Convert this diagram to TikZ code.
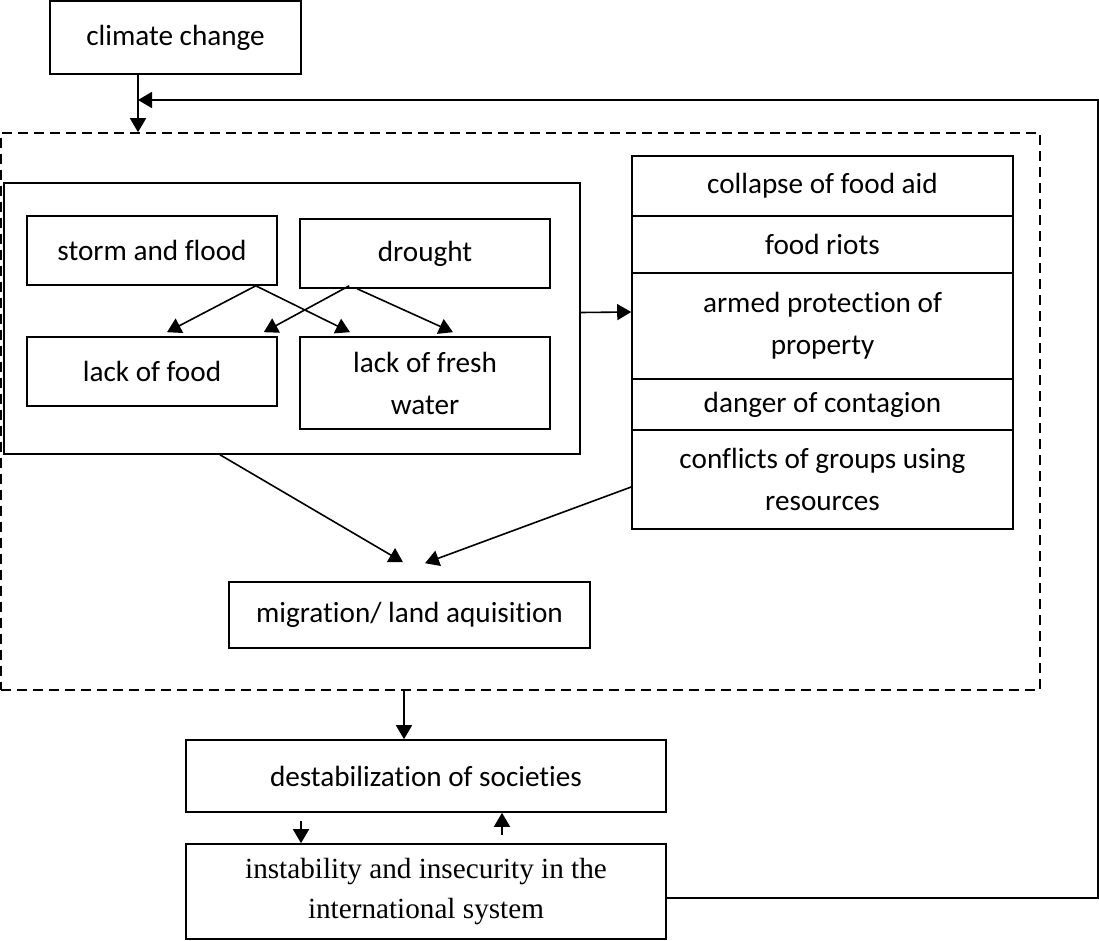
\documentclass[tikz,border=0pt]{standalone}
\usepackage{fontspec}
\setmainfont{Carlito}[Ligatures=NoCommon]
\newfontfamily\timesfont{Liberation Serif}[Ligatures=NoCommon]
\usepackage{tikz}
\usetikzlibrary{arrows.meta,calc}
\tikzset{>/.tip={Triangle[length=7pt,width=8pt]},
  box/.style={draw, inner sep=0pt, align=center, font=\fontsize{14.6}{21}\selectfont},
  tbox/.style={box, font=\timesfont\fontsize{14.6}{20}\selectfont}}

\begin{document}
\begin{tikzpicture}[x=0.5pt, y=-0.5pt, line width=0.8pt]
 \useasboundingbox (0,0) rectangle (1099,941);

 \node[box, minimum width=125.5pt, minimum height=36.5pt] (cc) at (175.5, 37.5) {climate change};
 \node[draw, dashed, dash pattern=on 5pt off 3pt, inner sep=0pt,
       minimum width=519.5pt, minimum height=278.5pt] (frame) at (520.5, 411.5) {};

 % left block
 \node[box, minimum width=288pt, minimum height=135.5pt] (group) at (292, 318.5) {};
 \node[box, minimum width=125pt, minimum height=34.5pt] (storm)   at (152, 250.5) {storm and flood};
 \node[box, minimum width=125pt, minimum height=34.5pt] (drought) at (425, 253.5) {drought};
 \node[box, minimum width=125pt, minimum height=34.5pt] (food)    at (152, 371.5) {lack of food};
 \node[box, minimum width=125pt, minimum height=46pt]   (water)   at (425, 383)   {lack of fresh\\water};

 % right column
 \node[box, minimum width=190.5pt, minimum height=30pt]   (aid)       at (822.5, 186)   {collapse of food aid};
 \node[box, minimum width=190.5pt, minimum height=28.5pt] (riots)     at (822.5, 244.5) {food riots};
 \node[box, minimum width=190.5pt, minimum height=53pt]   (armed)     at (822.5, 326)   {armed protection of\\property};
 \node[box, minimum width=190.5pt, minimum height=25.5pt] (contagion) at (822.5, 404.5) {danger of contagion};
 \node[box, minimum width=190.5pt, minimum height=49.5pt] (conflicts) at (822.5, 479.5) {conflicts of groups using\\resources};

 \node[box, minimum width=180.5pt, minimum height=33pt] (migration) at (409.5, 615) {migration/ land aquisition};
 \node[box, minimum width=240pt, minimum height=36pt]   (destab)    at (426, 776)    {destabilization of societies};
 \node[tbox, minimum width=240pt, minimum height=47.5pt] (instab)   at (426, 891.5)  {instability and insecurity in the\\international system};

 \coordinate (join)   at (138, 100);
 \coordinate (corner) at (1098, 100);
 \coordinate (dn)     at ($(destab.north)+(-22,0)$);

 \path[->] (cc.south -| join) edge (frame.north -| join);
 \draw[->] ($(instab.east)+(0,6.5)$) -| (corner) -- (join);

 \path[->] ($(storm.south east)+(-22,0)$) edge ($(food.north)+(15,-4)$);
 \path[->] ($(storm.south east)+(-22,0)$) edge ($(water.north)+(-75,-4)$);
 \path[->] ($(drought.south west)+(50,-3)$) edge ($(food.north east)+(-14,-4)$);
 \path[->] ($(drought.south west)+(58,0)$) edge ($(water.north)+(28,-4)$);

 \path[->] ($(group.east)+(0,-6)$) edge ($(armed.west)+(0,-14)$);
 \path[->] ($(group.south)+(-72,0)$) edge ($(migration.north)+(-6.5,-19)$);
 \path[->] ($(conflicts.west)+(0,7.5)$) edge ($(migration.north)+(15.5,-18)$);

 \path[->] (frame.south -| dn) edge (dn);
 \path[->] ($(destab.south)+(-125,8)$) edge ($(instab.north)+(-125,0)$);
 \path[->] ($(instab.north)+(76,-8)$) edge ($(destab.south)+(76,0)$);
\end{tikzpicture}
\end{document}
